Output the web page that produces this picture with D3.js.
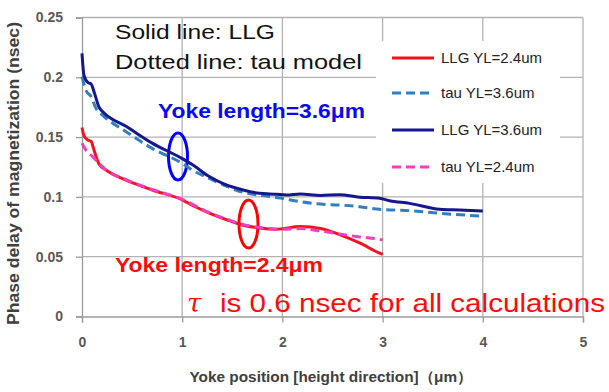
<!DOCTYPE html>
<html><head><meta charset="utf-8">
<script src="https://cdn.jsdelivr.net/npm/d3@7"></script>
<style>html,body{margin:0;padding:0;background:#fff;}svg{display:block;}</style>
</head><body>
<svg id="c" width="609" height="392"></svg>
<script>
// ---- data ----
const xTicks = [0, 1, 2, 3, 4, 5];
const xTickLabels = ["0", "1", "2", "3", "4", "5"];
const yTicks = [0, 0.05, 0.1, 0.15, 0.2, 0.25];
const yTickLabels = ["0", "0.05", "0.1", "0.15", "0.2", "0.25"];

const llg24X = [0, 0.02, 0.06, 0.09, 0.12, 0.17, 0.24, 0.44, 0.7, 1.0, 1.1, 1.27, 1.44, 1.6, 1.77, 1.94, 2.18, 2.38, 2.57, 2.77, 2.97, 3.0];
const llg24Y = [0.158, 0.151, 0.1475, 0.1465, 0.139, 0.1275, 0.1225, 0.114, 0.1058, 0.0975, 0.093, 0.0865, 0.081, 0.0765, 0.074, 0.073, 0.0752, 0.0735, 0.0685, 0.0615, 0.053, 0.052];

const tau36X = [0, 0.04, 0.09, 0.14, 0.21, 0.44, 0.7, 1.0, 1.1, 1.27, 1.44, 1.6, 1.77, 1.98, 2.18, 2.38, 2.57, 2.77, 2.97, 3.27, 3.57, 3.97];
const tau36Y = [0.2005, 0.189, 0.184, 0.174, 0.168, 0.1545, 0.1406, 0.128, 0.1225, 0.1155, 0.109, 0.104, 0.1015, 0.099, 0.096, 0.094, 0.0932, 0.0918, 0.0896, 0.0885, 0.0863, 0.084];

const llg36X = [0, 0.02, 0.06, 0.09, 0.12, 0.17, 0.21, 0.44, 0.7, 1.0, 1.1, 1.27, 1.44, 1.6, 1.77, 1.94, 2.04, 2.18, 2.38, 2.57, 2.77, 2.97, 3.07, 3.27, 3.57, 3.77, 4.0];
const llg36Y = [0.220, 0.2015, 0.1955, 0.1945, 0.188, 0.175, 0.171, 0.159, 0.145, 0.132, 0.127, 0.117, 0.110, 0.106, 0.103, 0.1022, 0.1016, 0.1025, 0.1012, 0.1018, 0.0998, 0.0988, 0.0968, 0.0946, 0.0896, 0.089, 0.0882];

const tau24X = [0, 0.04, 0.107, 0.17, 0.24, 0.44, 0.7, 1.0, 1.27, 1.44, 1.6, 1.77, 1.98, 2.18, 2.38, 2.57, 2.77, 2.97, 3.0];
const tau24Y = [0.145, 0.139, 0.1336, 0.128, 0.1225, 0.1145, 0.1062, 0.098, 0.0868, 0.0815, 0.077, 0.0745, 0.073, 0.0735, 0.0715, 0.069, 0.0665, 0.0645, 0.064];

const seriesNames = ["LLG YL=2.4um", "tau YL=3.6um", "LLG YL=3.6um", "tau YL=2.4um"];

// ---- styles ----
const series = [
  {name: seriesNames[0], xs: llg24X, ys: llg24Y, color: "#f5141e", dash: null},
  {name: seriesNames[1], xs: tau36X, ys: tau36Y, color: "#2f7fc1", dash: "9,5"},
  {name: seriesNames[2], xs: llg36X, ys: llg36Y, color: "#16178f", dash: null},
  {name: seriesNames[3], xs: tau24X, ys: tau24Y, color: "#f03fbf", dash: "9,5"}
];

const svg = d3.select("#c");
const FONT = "'Liberation Sans', Arial, sans-serif";
const x = d3.scaleLinear().domain([0, 5]).range([82, 583]);
const y = d3.scaleLinear().domain([0, 0.25]).range([316.5, 17.5]);

// gridlines
svg.append("g").selectAll("line.h").data(yTicks.slice(1)).join("line")
  .attr("x1", x(0)).attr("x2", x(5)).attr("y1", d => y(d)).attr("y2", d => y(d))
  .attr("stroke", "#b3b3b3").attr("stroke-width", 1.3);
svg.append("g").selectAll("line.v").data(xTicks.slice(1)).join("line")
  .attr("x1", d => x(d)).attr("x2", d => x(d)).attr("y1", y(0)).attr("y2", y(0.25))
  .attr("stroke", "#b3b3b3").attr("stroke-width", 1.3);

// axes
const yAxis = d3.axisLeft(y).tickValues(yTicks).tickSize(6).tickPadding(13)
  .tickFormat((d, i) => yTickLabels[i]);
const gy = svg.append("g").attr("transform", `translate(${x(0)},0)`).call(yAxis);
gy.select(".domain").attr("stroke", "#9a9a9a").attr("stroke-width", 1.3);
gy.selectAll(".tick line").attr("stroke", "#9a9a9a").attr("stroke-width", 1.3);
gy.selectAll(".tick text").attr("fill", "#595959").attr("font-family", FONT)
  .attr("font-size", 14).attr("font-weight", "bold");

const xAxis = d3.axisBottom(x).tickValues(xTicks).tickSize(6).tickPadding(15)
  .tickFormat((d, i) => xTickLabels[i]);
const gx = svg.append("g").attr("transform", `translate(0,${y(0)})`).call(xAxis);
gx.select(".domain").attr("stroke", "#9a9a9a").attr("stroke-width", 1.3);
gx.selectAll(".tick line").attr("stroke", "#9a9a9a").attr("stroke-width", 1.3);
gx.selectAll(".tick text").attr("fill", "#595959").attr("font-family", FONT)
  .attr("font-size", 14).attr("font-weight", "bold");

// axis titles
svg.append("text").attr("x", 331).attr("y", 382).attr("text-anchor", "middle")
  .attr("font-family", FONT).attr("font-size", 15).attr("font-weight", "bold")
  .attr("fill", "#404040").attr("textLength", 283).attr("lengthAdjust", "spacingAndGlyphs")
  .text("Yoke position [height direction]（μm）");
svg.append("text").attr("transform", "translate(19,173.5) rotate(-90)").attr("text-anchor", "middle")
  .attr("font-family", FONT).attr("font-size", 16).attr("font-weight", "bold")
  .attr("fill", "#404040").attr("textLength", 303).attr("lengthAdjust", "spacingAndGlyphs")
  .text("Phase delay of magnetization (nsec)");

// ellipses (behind curves)
svg.append("ellipse").attr("cx", 178).attr("cy", 156.5).attr("rx", 9.5).attr("ry", 23.5)
  .attr("fill", "none").attr("stroke", "#0000ff").attr("stroke-width", 3);
svg.append("ellipse").attr("cx", 248.5).attr("cy", 224).attr("rx", 9.5).attr("ry", 24)
  .attr("fill", "none").attr("stroke", "#ff0000").attr("stroke-width", 3);

// curves
const line = d3.line().x(d => x(d[0])).y(d => y(d[1])).curve(d3.curveMonotoneX);
series.forEach(s => {
  const pts = s.xs.map((v, i) => [v, s.ys[i]]);
  svg.append("path").datum(pts).attr("d", line).attr("fill", "none")
    .attr("stroke", s.color).attr("stroke-width", 3)
    .attr("stroke-dasharray", s.dash).attr("stroke-linejoin", "round");
});

// legend
svg.append("rect").attr("x", 376).attr("y", 41).attr("width", 184).attr("height", 142).attr("fill", "#fff");
const legY = [58, 93, 130, 167];
const lg = svg.append("g").selectAll("g").data(series).join("g");
lg.append("line").attr("x1", 392).attr("x2", 434).attr("y1", (d, i) => legY[i]).attr("y2", (d, i) => legY[i])
  .attr("stroke", d => d.color).attr("stroke-width", 3).attr("stroke-dasharray", d => d.dash);
lg.append("text").attr("x", 441).attr("y", (d, i) => legY[i]).attr("dy", "0.36em")
  .attr("font-family", FONT).attr("font-size", 15).attr("fill", "#222")
  .text(d => d.name);

// annotations
svg.append("text").attr("x", 115).attr("y", 39).attr("font-family", FONT).attr("font-size", 21)
  .attr("fill", "#111").attr("textLength", 160).attr("lengthAdjust", "spacingAndGlyphs")
  .text("Solid line: LLG");
svg.append("text").attr("x", 115).attr("y", 68.5).attr("font-family", FONT).attr("font-size", 21)
  .attr("fill", "#111").attr("textLength", 247).attr("lengthAdjust", "spacingAndGlyphs")
  .text("Dotted line: tau model");
svg.append("text").attr("x", 158).attr("y", 118).attr("font-family", FONT).attr("font-size", 21)
  .attr("font-weight", "bold").attr("fill", "#0a0af0").attr("textLength", 207).attr("lengthAdjust", "spacingAndGlyphs")
  .text("Yoke length=3.6μm");
svg.append("text").attr("x", 115).attr("y", 271.5).attr("font-family", FONT).attr("font-size", 21)
  .attr("font-weight", "bold").attr("fill", "#ff0a0a").attr("textLength", 208).attr("lengthAdjust", "spacingAndGlyphs")
  .text("Yoke length=2.4μm");
svg.append("text").attr("x", 187).attr("y", 311.5).attr("font-family", "'DejaVu Serif', 'Liberation Serif', serif")
  .attr("font-style", "italic").attr("font-size", 26).attr("fill", "#ff0a0a")
  .text("τ");
svg.append("text").attr("x", 220).attr("y", 311.5).attr("font-family", FONT).attr("font-size", 25)
  .attr("fill", "#ff0a0a").attr("textLength", 385).attr("lengthAdjust", "spacingAndGlyphs")
  .text("is 0.6 nsec for all calculations");
</script>
</body></html>
